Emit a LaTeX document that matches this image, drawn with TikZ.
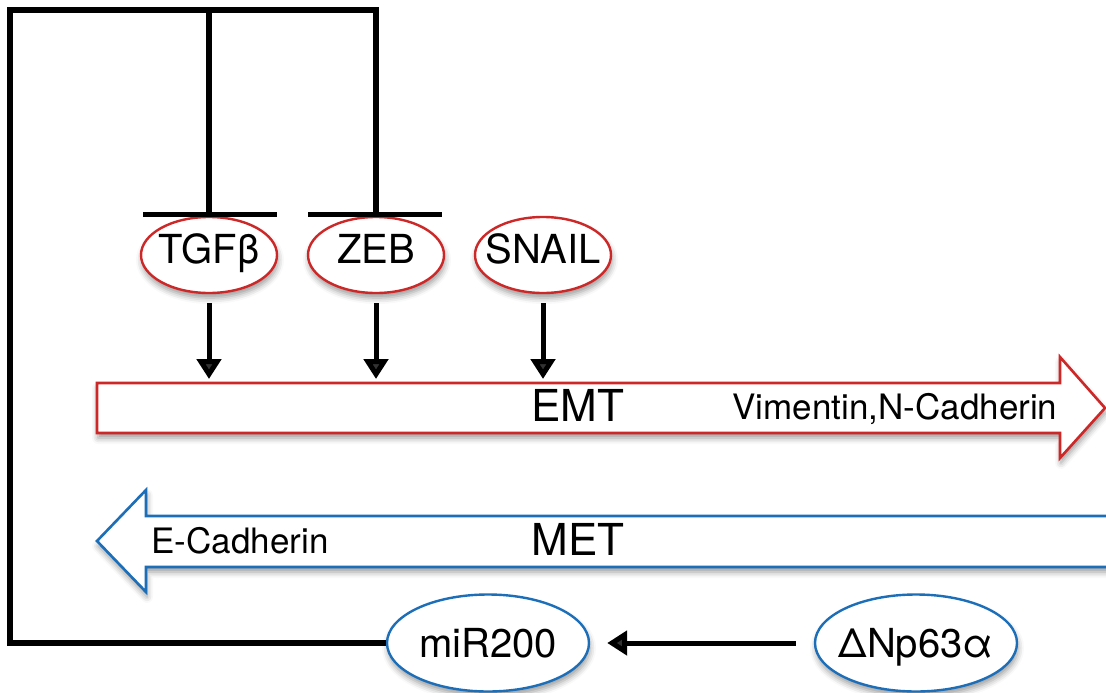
\documentclass[tikz,border=0pt]{standalone}
\usepackage{fontspec}
\setmainfont{TeX Gyre Heros}
\usetikzlibrary{shapes.geometric,arrows.meta,shadows.blur}
\definecolor{emtred}{RGB}{205,40,40}
\definecolor{metblue}{RGB}{28,110,185}
\begin{document}
\begin{tikzpicture}[x=1pt,y=-1pt,
  softshadow/.style={blur shadow={shadow xshift=1pt,shadow yshift=-5pt,shadow blur radius=6pt,shadow opacity=40}},
  ell/.style={ellipse, line width=2.4pt, fill=white, inner sep=0pt,
    text height=29pt, text depth=0pt, font=\fontsize{40}{48}\selectfont, softshadow},
  redell/.style={ell, draw=emtred, minimum width=136pt, minimum height=76pt},
  blueell/.style={ell, draw=metblue, minimum width=202pt, minimum height=97pt},
  act/.style={line width=5pt, -{Triangle[length=20pt,width=24pt]}},
  fb/.style={line width=5.5pt, line join=miter},
  tbar/.style={line width=5pt},
  bigtxt/.style={font=\fontsize{44}{50}\selectfont, text height=32pt, text depth=0pt, inner sep=0pt},
  smalltxt/.style={font=\fontsize{35}{42}\selectfont, text height=25pt, text depth=0pt, inner sep=0pt},
  band/.style={line width=2.6pt, fill=white, line join=miter, softshadow}
]
\path[use as bounding box] (0,0) rectangle (1106,693);
\clip (0,0) rectangle (1106,693);

% EMT arrow
\path[band, draw=emtred] (97,383) -- (1060,383) -- (1060,357) -- (1105,408)
  -- (1060,458) -- (1060,433) -- (97,433) -- cycle;
% MET arrow
\path[band, draw=metblue] (1115,516) -- (146,516) -- (146,490) -- (97,541)
  -- (146,592) -- (146,567) -- (1115,567);

\node[bigtxt] (emt) at (578,405) {EMT};
\node[bigtxt] (met) at (578,539) {MET};
\node[smalltxt] (vim) at (895,407) {Vimentin,N-Cadherin};
\node[smalltxt] (ecad) at (240,541) {E-Cadherin};

\coordinate (emtN) at (578,379);

% top ellipses
\node[redell] (tgf) at (209,255) {\raisebox{6pt}{\makebox[0pt]{TGFβ}}};
\node[redell] (zeb) at (376,255) {\raisebox{6pt}{\makebox[0pt]{ZEB}}};
\node[redell] (snail) at (543,255) {\raisebox{6pt}{\makebox[0pt]{SNAIL}}};

% bottom ellipses
\node[blueell] (mir) at (488,643) {\makebox[0pt]{miR200}};
\node[blueell] (dnp) at (916,643) {\makebox[0pt]{ΔNp63α}};

% activation arrows
\draw[act] ([yshift=-9pt]tgf.south) -- (tgf.south |- emtN);
\draw[act] ([yshift=-9pt]zeb.south) -- (zeb.south |- emtN);
\draw[act] ([yshift=-9pt]snail.south) -- (snail.south |- emtN);
\draw[act] ([xshift=-18pt]dnp.west) -- ([xshift=17pt]mir.east);

% inhibition feedback
\coordinate (tl) at (10,10);
\coordinate (tgfbar) at (209,214);
\coordinate (zebbar) at (376,214);
\draw[fb] (mir.west) -| (tl) -| (zebbar);
\draw[fb] (tgfbar |- tl) -- (tgfbar);
\draw[tbar] ([xshift=-66pt]tgfbar) -- ([xshift=68pt]tgfbar);
\draw[tbar] ([xshift=-68pt]zebbar) -- ([xshift=66pt]zebbar);
\end{tikzpicture}
\end{document}
